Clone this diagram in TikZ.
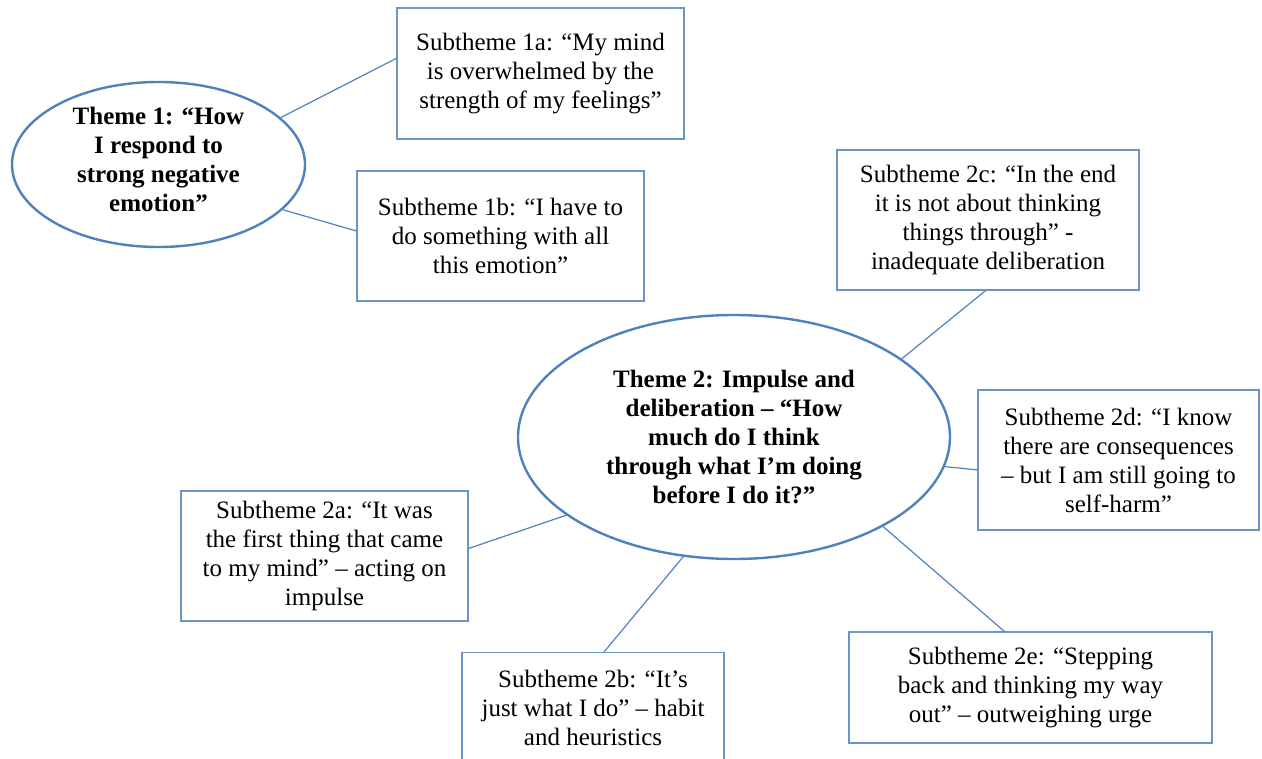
\documentclass[tikz,border=0pt]{standalone}
\usepackage{fontspec}
\setmainfont{Liberation Serif}
\usetikzlibrary{shapes.geometric,calc}
\definecolor{ebl}{HTML}{4F81BD}
\definecolor{bbl}{HTML}{6A93C8}
\begin{document}
\begin{tikzpicture}[x=1pt,y=-1pt,
  every node/.style={font=\fontsize{25}{29}\selectfont, align=center, inner sep=0pt},
  theme/.style={ellipse, draw=ebl, line width=2.4pt, font=\fontsize{25}{29}\selectfont\bfseries},
  sub/.style={rectangle, draw=bbl, line width=1.3pt, fill=white},
  link/.style={draw=ebl, line width=1.2pt}]
\useasboundingbox (0,0) rectangle (1262,759);
\clip (0,0) rectangle (1262,759);
% themes
\node[theme, minimum width=293pt, minimum height=165pt] (t1) at (158.5,164.5) {};
\node (t1txt) at (158.5,159) {\bfseries Theme 1: “How\\\bfseries I respond to\\\bfseries strong negative\\\bfseries emotion”};
\node[theme, minimum width=432pt, minimum height=244pt] (t2) at (734,437) {Theme 2: Impulse and\\deliberation – “How\\much do I think\\through what I’m doing\\before I do it?”};
% subtheme boxes
\node[sub, minimum width=287pt, minimum height=131pt] (b1a) at (540.5,73.5) {Subtheme 1a: “My mind\\is overwhelmed by the\\strength of my feelings”};
\node[sub, minimum width=287pt, minimum height=130pt] (b1b) at (500.5,236) {Subtheme 1b: “I have to\\do something with all\\this emotion”};
\node[sub, minimum width=302pt, minimum height=140pt] (b2c) at (988,220) {Subtheme 2c: “In the end\\it is not about thinking\\things through” -\\inadequate deliberation};
\node[sub, minimum width=281pt, minimum height=140pt] (b2d) at (1118.5,460) {Subtheme 2d: “I know\\there are consequences\\– but I am still going to\\self-harm”};
\node[sub, minimum width=287pt, minimum height=130pt] (b2a) at (324.5,556) {Subtheme 2a: “It was\\the first thing that came\\to my mind” – acting on\\impulse};
\node[sub, minimum width=262pt, anchor=north] (b2b) at (593,652) {\rule{0pt}{35pt}Subtheme 2b: “It’s\\just what I do” – habit\\and heuristics\\[40pt]\strut};
\node[sub, minimum width=363pt, minimum height=111pt] (b2e) at (1030.5,687.5) {Subtheme 2e: “Stepping\\back and thinking my way\\out” – outweighing urge};
% connectors
\draw[link] (t1.21) -- (b1a.174.6);
\draw[link] (t1.-20.5) -- (b1b.178.4);
\draw[link] (t2.25) -- (b2c.-92.4);
\draw[link] (t2.-8.9) -- (b2d.184);
\draw[link] (t2.205.7) -- (b2a.3.2);
\draw[link] (t2.247.1) -- ($(b2b.north)+(11,0)$);
\draw[link] (t2.-31.5) -- (b2e.115.5);
\end{tikzpicture}
\end{document}
